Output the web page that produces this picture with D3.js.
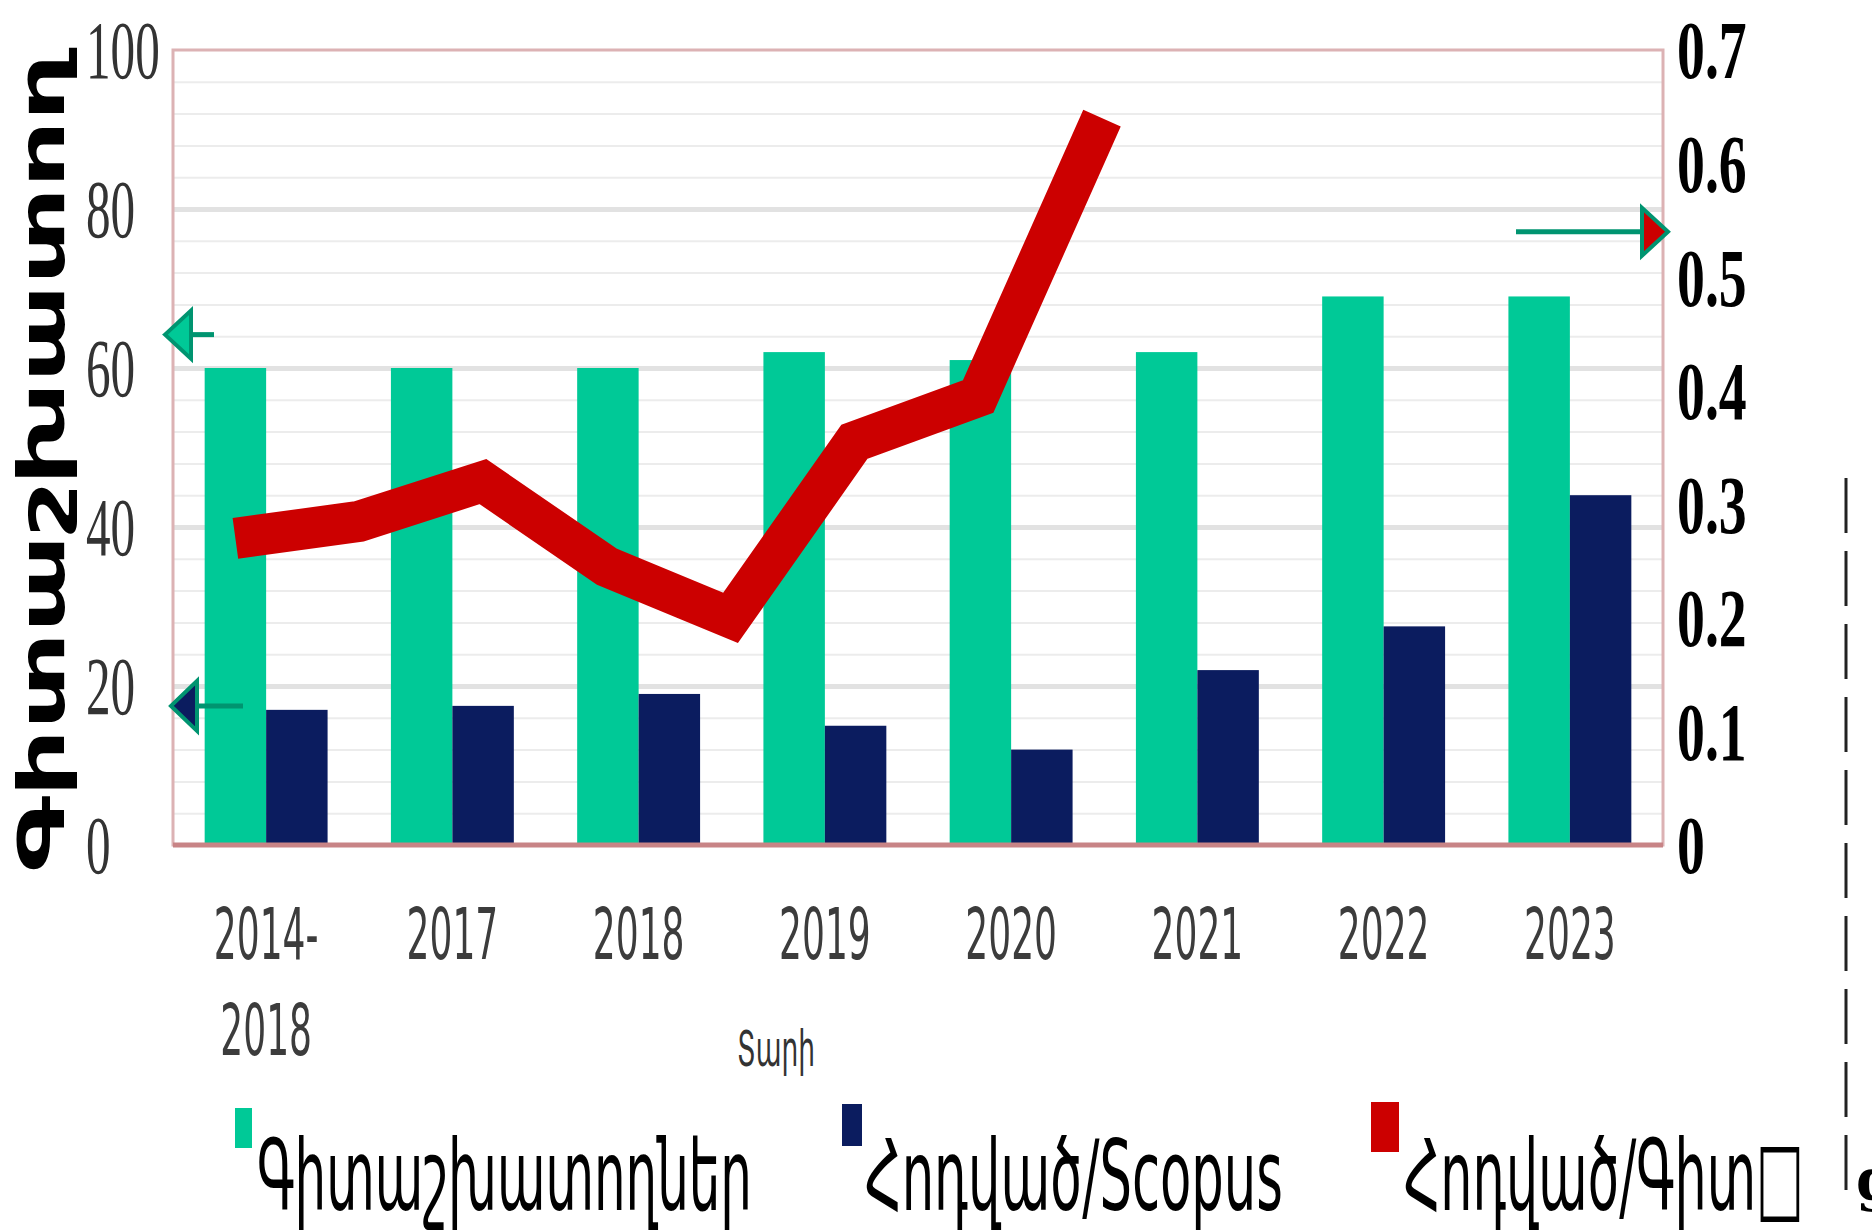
<!DOCTYPE html>
<html>
<head>
<meta charset="utf-8">
<script src="https://cdn.jsdelivr.net/npm/d3@7/dist/d3.min.js"></script>
<style>
  body { margin: 0; background: #fff; }
  svg { display: block; }
</style>
</head>
<body>
<svg id="chart" width="1872" height="1232"></svg>
<script>
// data
const categories = ["2014-2018", "2017", "2018", "2019", "2020", "2021", "2022", "2023"];
const researchers = [60, 60, 60, 62, 61, 62, 69, 69];
const scopusArticles = [17, 17.5, 19, 15, 12, 22, 27.5, 44];
const articlesPerResearcher = [0.27, 0.285, 0.32, 0.245, 0.2, 0.355, 0.395, 0.64];
const leftTicks = [0, 20, 40, 60, 80, 100];
const rightTicks = [0, 0.1, 0.2, 0.3, 0.4, 0.5, 0.6, 0.7];
const seriesKeys = ["researchers", "scopus"];
const legendLabels = ["Գիտաշխատողներ", "Հոդված/Scopus", "Հոդված/Գիտ□"];
const yTitle = "Գիտաշխատող";
const xTitle = "Տարի";

const colors = {green: "#00c997", navy: "#0b1c5f", red: "#cc0000", arrow: "#009470"};

const plot = {left: 173, right: 1663, top: 50, bottom: 845};
const svg = d3.select("#chart");

// squeeze a text horizontally so it spans the given width
function fitWidth(sel, x, y, width) {
    sel.each(function() {
        const natural = this.getComputedTextLength();
        d3.select(this).attr("transform", `translate(${x},${y}) scale(${width / natural},1)`);
    });
}

const x = d3.scaleBand().domain(categories).range([plot.left, plot.right])
    .paddingInner(0.34).paddingOuter(0.17);
const xSub = d3.scaleBand().domain(seriesKeys).range([0, x.bandwidth()]);
const yLeft = d3.scaleLinear().domain([0, 100]).range([plot.bottom, plot.top]);
const yRight = d3.scaleLinear().domain([0, 0.7]).range([plot.bottom, plot.top]);
// the ratio line in the source sits on a narrower span than the bars
const xLine = d3.scalePoint().domain(categories)
    .range([x(categories[0]) + xSub.bandwidth() / 2, 1102]);

// grid: faint every 4, stronger every 20
svg.append("g")
    .attr("transform", `translate(${plot.left},0)`)
    .call(d3.axisLeft(yLeft).tickValues(d3.range(4, 100, 4)).tickSize(-(plot.right - plot.left)).tickFormat(""))
    .call(g => g.select(".domain").remove())
    .call(g => g.selectAll("line").attr("stroke", "#ececec").attr("stroke-width", 2));
svg.append("g")
    .attr("transform", `translate(${plot.left},0)`)
    .call(d3.axisLeft(yLeft).tickValues([20, 40, 60, 80]).tickSize(-(plot.right - plot.left)).tickFormat(""))
    .call(g => g.select(".domain").remove())
    .call(g => g.selectAll("line").attr("stroke", "#e2e2e2").attr("stroke-width", 5));

// frame
svg.append("rect")
    .attr("x", plot.left).attr("y", plot.top)
    .attr("width", plot.right - plot.left).attr("height", plot.bottom - plot.top)
    .attr("fill", "none").attr("stroke", "#dcb2b4").attr("stroke-width", 3);

// bars
const groups = svg.append("g").selectAll("g")
    .data(categories)
    .join("g")
    .attr("transform", d => `translate(${x(d)},0)`);
groups.append("rect")
    .attr("x", xSub("researchers"))
    .attr("y", (d, i) => yLeft(researchers[i]))
    .attr("width", xSub.bandwidth())
    .attr("height", (d, i) => yLeft(0) - yLeft(researchers[i]))
    .attr("fill", colors.green);
groups.append("rect")
    .attr("x", xSub("scopus"))
    .attr("y", (d, i) => yLeft(scopusArticles[i]))
    .attr("width", xSub.bandwidth())
    .attr("height", (d, i) => yLeft(0) - yLeft(scopusArticles[i]))
    .attr("fill", colors.navy);

// bottom edge of the frame
svg.append("line")
    .attr("x1", plot.left).attr("x2", plot.right)
    .attr("y1", plot.bottom).attr("y2", plot.bottom)
    .attr("stroke", "#c88486").attr("stroke-width", 5);

// ratio line
svg.append("path")
    .datum(articlesPerResearcher)
    .attr("fill", "none")
    .attr("stroke", colors.red)
    .attr("stroke-width", 41)
    .attr("stroke-linejoin", "miter")
    .attr("stroke-miterlimit", 10)
    .attr("d", d3.line().x((d, i) => xLine(categories[i])).y(d => yRight(d)));

// left axis labels
svg.append("g")
    .attr("transform", "translate(86,0)")
    .call(d3.axisLeft(yLeft).tickValues(leftTicks).tickSize(0))
    .call(g => g.select(".domain").remove())
    .call(g => g.selectAll("text")
        .attr("x", 0).attr("dy", "0.34em")
        .attr("text-anchor", "start")
        .attr("transform", "scale(0.6,1)")
        .attr("font-family", "Liberation Serif, serif")
        .attr("font-size", 82)
        .attr("fill", "#333"));

// right axis labels
svg.append("g")
    .attr("transform", "translate(1677,0)")
    .call(d3.axisRight(yRight).tickValues(rightTicks).tickSize(0)
        .tickFormat(d => d === 0 ? "0" : d3.format(".1f")(d)))
    .call(g => g.select(".domain").remove())
    .call(g => g.selectAll("text")
        .attr("x", 0).attr("dy", "0.34em")
        .attr("text-anchor", "start")
        .attr("transform", "scale(0.68,1)")
        .attr("font-family", "Liberation Serif, serif")
        .attr("font-weight", "bold")
        .attr("font-size", 82)
        .attr("fill", "#000"));

// category labels
svg.append("g")
    .attr("transform", `translate(0,${plot.bottom})`)
    .call(d3.axisBottom(x).tickSize(0))
    .call(g => g.select(".domain").remove())
    .call(g => g.selectAll("text").each(function(d) {
        const t = d3.select(this).text("")
            .attr("y", null).attr("dy", null)
            .attr("text-anchor", "middle")
            .attr("transform", "scale(0.5,1)")
            .attr("font-family", "DejaVu Sans, sans-serif")
            .attr("font-size", 72)
            .attr("fill", "#3c3c3c");
        const parts = d.includes("-") ? [d.split("-")[0] + "-", d.split("-")[1]] : [d];
        parts.forEach((p, k) => t.append("tspan").attr("x", 0).attr("y", 114 + k * 96).text(p));
    }));

// axis titles
svg.append("text")
    .attr("font-family", "DejaVu Sans, sans-serif")
    .attr("font-size", 50)
    .attr("fill", "#333")
    .text(xTitle)
    .call(fitWidth, 737, 1066, 78);

svg.append("text")
    .attr("transform", "translate(64,872) rotate(-90)")
    .attr("textLength", 818).attr("lengthAdjust", "spacingAndGlyphs")
    .attr("font-family", "DejaVu Sans, sans-serif")
    .attr("font-weight", "bold")
    .attr("font-size", 64)
    .attr("fill", "#000")
    .text(yTitle);

// arrows pointing at the axes
function arrow(xStart, xTip, y, half, fill) {
    const dir = Math.sign(xTip - xStart);
    const back = xTip - dir * 26;
    const g = svg.append("g");
    g.append("line")
        .attr("x1", xStart).attr("x2", back).attr("y1", y).attr("y2", y)
        .attr("stroke", colors.arrow).attr("stroke-width", 5);
    g.append("path")
        .attr("d", `M${xTip},${y}L${back},${y - half}L${back},${y + half}Z`)
        .attr("fill", fill)
        .attr("stroke", colors.arrow)
        .attr("stroke-width", 4)
        .attr("stroke-linejoin", "miter");
}
arrow(214, 165, yLeft(64.2), 24, colors.green);
arrow(243, 171, yLeft(17.5), 25, colors.navy);
arrow(1516, 1668, yRight(0.54), 24, colors.red);

// legend
const legendItems = [
    {label: legendLabels[0], color: colors.green, sx: 235, sy: 1108, sw: 17, sh: 40, tx: 257, tw: 495},
    {label: legendLabels[1], color: colors.navy, sx: 842, sy: 1104, sw: 20, sh: 42, tx: 865, tw: 418},
    {label: legendLabels[2], color: colors.red, sx: 1371, sy: 1102, sw: 28, sh: 50, tx: 1404, tw: 400}
];
const legend = svg.append("g").selectAll("g").data(legendItems).join("g");
legend.append("rect")
    .attr("x", d => d.sx).attr("y", d => d.sy)
    .attr("width", d => d.sw).attr("height", d => d.sh)
    .attr("fill", d => d.color);
legend.append("text")
    .attr("font-family", "DejaVu Sans Condensed, DejaVu Sans, sans-serif")
    .attr("font-size", 98)
    .attr("fill", "#000")
    .text(d => d.label)
    .each(function(d) { d3.select(this).call(fitWidth, d.tx, 1210, d.tw); });

// leftovers of the source page on the right edge
svg.append("line")
    .attr("x1", 1846).attr("x2", 1846).attr("y1", 478).attr("y2", 1206)
    .attr("stroke", "#222").attr("stroke-width", 3)
    .attr("stroke-dasharray", "55,18");
svg.append("text")
    .attr("x", 1855).attr("y", 1200)
    .attr("font-family", "DejaVu Serif, serif")
    .attr("font-weight", "bold")
    .attr("font-size", 56)
    .attr("fill", "#000")
    .text("ց");
</script>
</body>
</html>
